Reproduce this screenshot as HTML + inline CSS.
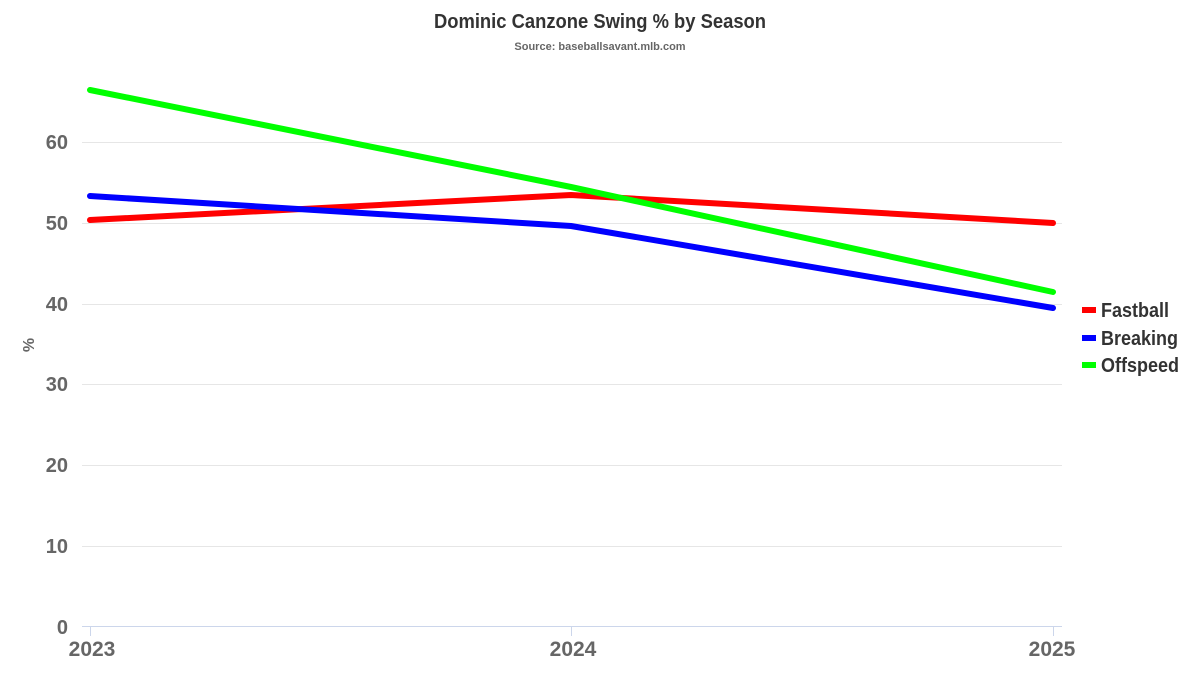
<!DOCTYPE html>
<html><head><meta charset="utf-8"><style>
html,body{margin:0;padding:0;background:#fff;}
svg{display:block;font-family:"Liberation Sans",sans-serif;}
</style></head><body>
<svg width="1200" height="675" viewBox="0 0 1200 675">
<g stroke="#e6e6e6" stroke-width="1">
<line x1="82" x2="1062" y1="546.5" y2="546.5"/>
<line x1="82" x2="1062" y1="465.5" y2="465.5"/>
<line x1="82" x2="1062" y1="384.5" y2="384.5"/>
<line x1="82" x2="1062" y1="304.5" y2="304.5"/>
<line x1="82" x2="1062" y1="223.5" y2="223.5"/>
<line x1="82" x2="1062" y1="142.5" y2="142.5"/>
</g>
<line x1="82" x2="1062" y1="626.5" y2="626.5" stroke="#ccd6eb"/>
<g stroke="#ccd6eb"><line x1="90.5" x2="90.5" y1="627" y2="636"/><line x1="571.5" x2="571.5" y1="627" y2="636"/><line x1="1053.5" x2="1053.5" y1="627" y2="636"/></g>
<g font-weight="bold" font-size="20" fill="#666" text-anchor="end">
<text x="68" y="634">0</text>
<text x="68" y="553">10</text>
<text x="68" y="472">20</text>
<text x="68" y="391">30</text>
<text x="68" y="311">40</text>
<text x="68" y="230">50</text>
<text x="68" y="149">60</text>
</g>
<g font-weight="bold" font-size="21" fill="#666" text-anchor="middle">
<text x="92" y="656">2023</text>
<text x="573" y="656">2024</text>
<text x="1052" y="656">2025</text>
</g>
<text x="0" y="0" transform="translate(34,345) rotate(-90)" font-weight="bold" font-size="16" fill="#666" text-anchor="middle">%</text>
<text x="600" y="28" font-weight="bold" font-size="20" fill="#333" text-anchor="middle" transform="translate(600,0) scale(0.92,1) translate(-600,0)">Dominic Canzone Swing % by Season</text>
<text x="600" y="50" font-weight="bold" font-size="11" fill="#666" text-anchor="middle">Source: baseballsavant.mlb.com</text>
<g fill="none" stroke-width="6" stroke-linejoin="round" stroke-linecap="round">
<polyline stroke="#ff0000" points="90,220 571,195 1053,223"/>
<polyline stroke="#0000ff" points="90,196 571,226 1053,308"/>
<polyline stroke="#00ff00" points="90,90 571,187 1053,292"/>
</g>
<g font-weight="bold" font-size="20" fill="#333">
<rect x="1082" y="307" width="14" height="6" fill="#ff0000"/><text x="1101" y="317" transform="translate(1101,0) scale(0.9,1) translate(-1101,0)">Fastball</text>
<rect x="1082" y="335" width="14" height="6" fill="#0000ff"/><text x="1101" y="345" transform="translate(1101,0) scale(0.9,1) translate(-1101,0)">Breaking</text>
<rect x="1082" y="362" width="14" height="6" fill="#00ff00"/><text x="1101" y="372" transform="translate(1101,0) scale(0.9,1) translate(-1101,0)">Offspeed</text>
</g>
</svg>
</body></html>
